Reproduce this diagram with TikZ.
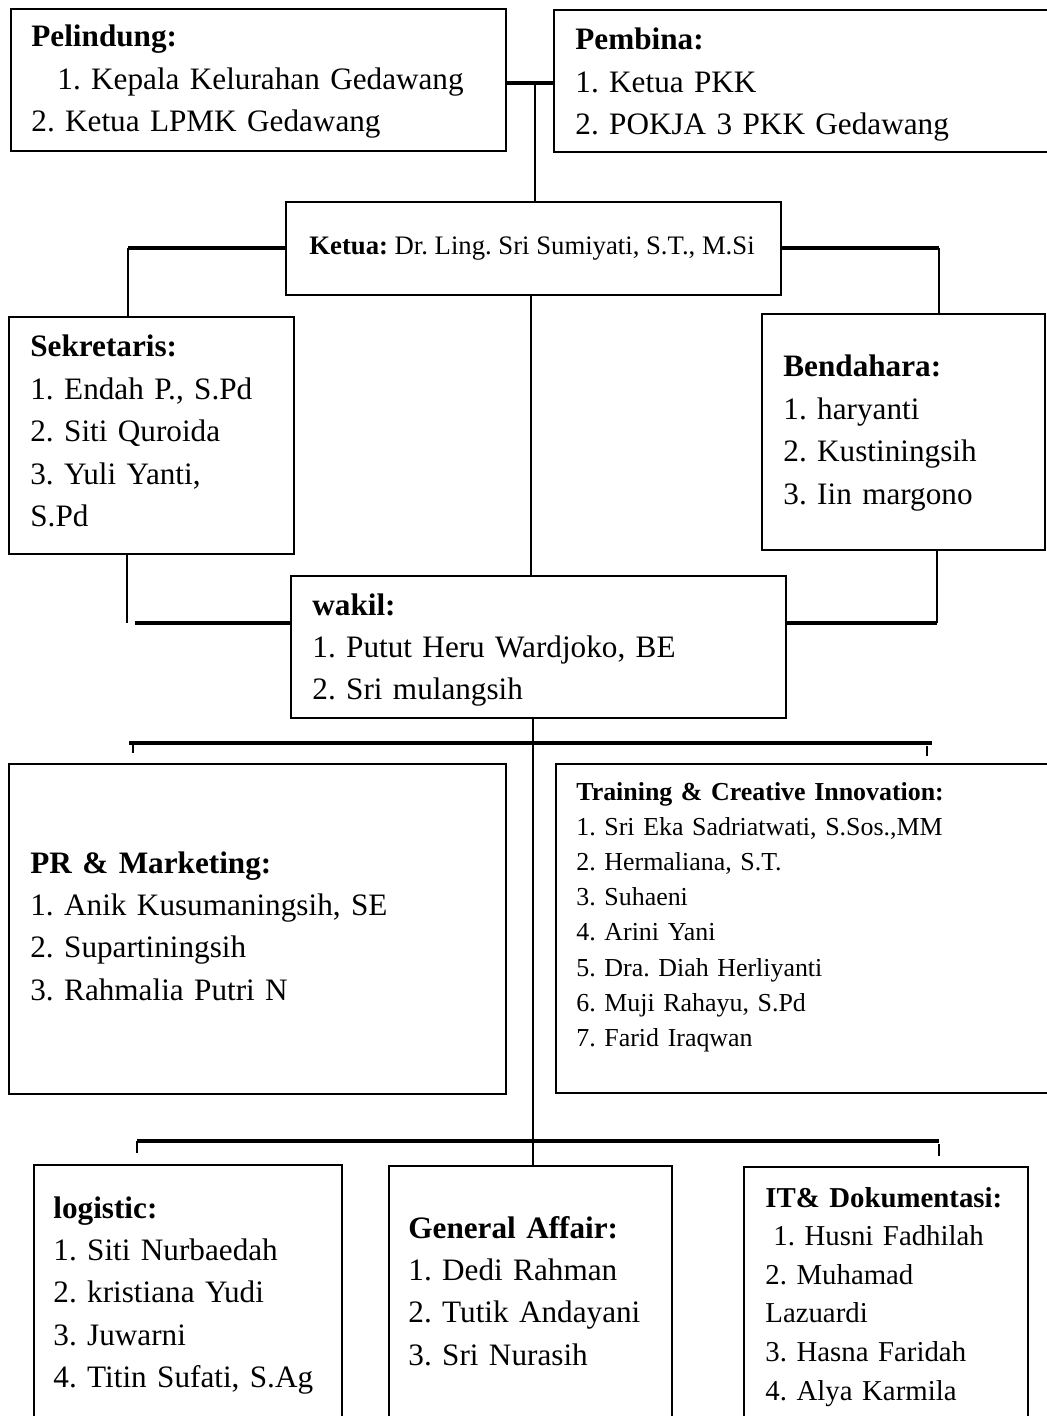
\documentclass[tikz,border=0pt]{standalone}
\usepackage{fontspec}
\setmainfont{Liberation Serif}
\frenchspacing
\begin{document}
\frenchspacing
\begin{tikzpicture}[x=0.5pt,y=-0.5pt,
  box/.style={draw, line width=1pt, rectangle, inner sep=0pt, anchor=north west},
  txt/.style={anchor=base west, inner sep=0pt, text width=250pt, align=left, font=\frenchspacing\fontsize{15.6}{21.2}\selectfont},
  smalltxt/.style={txt, font=\frenchspacing\fontsize{12.95}{17.6}\selectfont},
  ittxt/.style={txt, text width=140pt, font=\frenchspacing\fontsize{14.4}{19.3}\selectfont},
  conn/.style={line width=1pt},
  bus/.style={line width=1.6pt}]
\useasboundingbox (0,0) rectangle (1047,1416);
\clip (0,0) rectangle (1047,1416);

% boxes
\node[box, minimum width=247.5pt, minimum height=71pt] (pel) at (10,8) {};
\node[box, minimum width=255pt, minimum height=71pt] (pem) at (553,9) {};
\node[box, minimum width=247.5pt, minimum height=46.5pt] (ketua) at (285,201) {};
\node[box, minimum width=142.5pt, minimum height=118.5pt] (sek) at (8,316) {};
\node[box, minimum width=141.5pt, minimum height=118pt] (ben) at (761,313) {};
\node[box, minimum width=247.5pt, minimum height=71pt] (wakil) at (290,575) {};
\node[box, minimum width=248.5pt, minimum height=165pt] (pr) at (8,763) {};
\node[box, minimum width=255pt, minimum height=164.5pt] (tr) at (555,763) {};
\node[box, minimum width=154pt, minimum height=135pt] (log) at (33,1164) {};
\node[box, minimum width=141.5pt, minimum height=135pt] (ga) at (388,1165) {};
\node[box, minimum width=142pt, minimum height=135pt] (it) at (743,1166) {};

% texts
\node[txt] (pelT) at (31,47) {\textbf{Pelindung:}\\\hspace*{13pt}1. Kepala Kelurahan Gedawang\\2. Ketua LPMK Gedawang};
\node[txt] (pemT) at (575,50) {\textbf{Pembina:}\\1. Ketua PKK\\2. POKJA 3 PKK Gedawang};
\node[anchor=base west, inner sep=0pt, font=\frenchspacing\fontsize{13.35}{16}\selectfont] (ketuaT) at (309,255) {\textbf{Ketua:} Dr. Ling. Sri Sumiyati, S.T., M.Si};
\node[txt] (sekT) at (30,357) {\textbf{Sekretaris:}\\1. Endah P., S.Pd\\2. Siti Quroida\\3. Yuli Yanti,\\S.Pd};
\node[txt] (benT) at (783,377) {\textbf{Bendahara:}\\1. haryanti\\2. Kustiningsih\\3. Iin margono};
\node[txt] (wakilT) at (312,615) {\textbf{wakil:}\\1. Putut Heru Wardjoko, BE\\2. Sri mulangsih};
\node[txt] (prT) at (30,873) {\textbf{PR \& Marketing:}\\1. Anik Kusumaningsih, SE\\2. Supartiningsih\\3. Rahmalia Putri N};
\node[smalltxt] (trT) at (576,800) {\textbf{Training \& Creative Innovation:}\\1. Sri Eka Sadriatwati, S.Sos.,MM\\2. Hermaliana, S.T.\\3. Suhaeni\\4. Arini Yani\\5. Dra. Diah Herliyanti\\6. Muji Rahayu, S.Pd\\7. Farid Iraqwan};
\node[txt] (logT) at (53,1218) {\textbf{logistic:}\\1. Siti Nurbaedah\\2. kristiana Yudi\\3. Juwarni\\4. Titin Sufati, S.Ag};
\node[txt] (gaT) at (408,1238) {\textbf{General Affair:}\\1. Dedi Rahman\\2. Tutik Andayani\\3. Sri Nurasih};
\node[ittxt] (itT) at (765,1207) {\textbf{IT\& Dokumentasi:}\\\hspace*{4pt}1. Husni Fadhilah\\2. Muhamad\\Lazuardi\\3. Hasna Faridah\\4. Alya Karmila};

% connectors
\coordinate (j1) at (535,83);
\draw[bus] (pel.east |- j1) -- (pem.west |- j1);
\draw[conn] (j1) -- (j1 |- ketua.north);

\coordinate (kl) at (128,248);
\coordinate (kr) at (939,248);
\draw[bus] (ketua.west |- kl) -- (kl);
\draw[conn] (kl) -- (kl |- sek.north);
\draw[bus] (ketua.east |- kr) -- (kr);
\draw[conn] (kr) -- (kr |- ben.north);

\coordinate (kc) at (531,294);
\draw[conn] (kc |- ketua.south) -- (kc |- wakil.north);

\coordinate (sb) at (127,623);
\coordinate (sb2) at (135,623);
\draw[conn] (sb |- sek.south) -- (sb);
\draw[bus] (sb2) -- (wakil.west |- sb2);
\coordinate (bb) at (937,623);
\draw[conn] (bb |- ben.south) -- (bb);
\draw[bus] (wakil.east |- bb) -- (bb);

\coordinate (wc) at (533,743);
\draw[conn] (wc |- wakil.south) -- (wc |- ga.north);

\coordinate (b1l) at (129,743);
\coordinate (b1r) at (932,743);
\draw[bus] (b1l) -- (b1r);
\coordinate (t1a) at (133,743);
\coordinate (t1b) at (133,753);
\draw[conn] (t1a) -- (t1b);
\coordinate (t2a) at (927,746);
\coordinate (t2b) at (927,756);
\draw[conn] (t2a) -- (t2b);

\coordinate (b2l) at (137,1141);
\coordinate (b2r) at (939,1141);
\draw[bus] (b2l) -- (b2r);
\coordinate (t3b) at (137,1153);
\draw[conn] (b2l) -- (t3b);
\coordinate (t4a) at (939,1144);
\coordinate (t4b) at (939,1156);
\draw[conn] (t4a) -- (t4b);
\end{tikzpicture}
\end{document}
